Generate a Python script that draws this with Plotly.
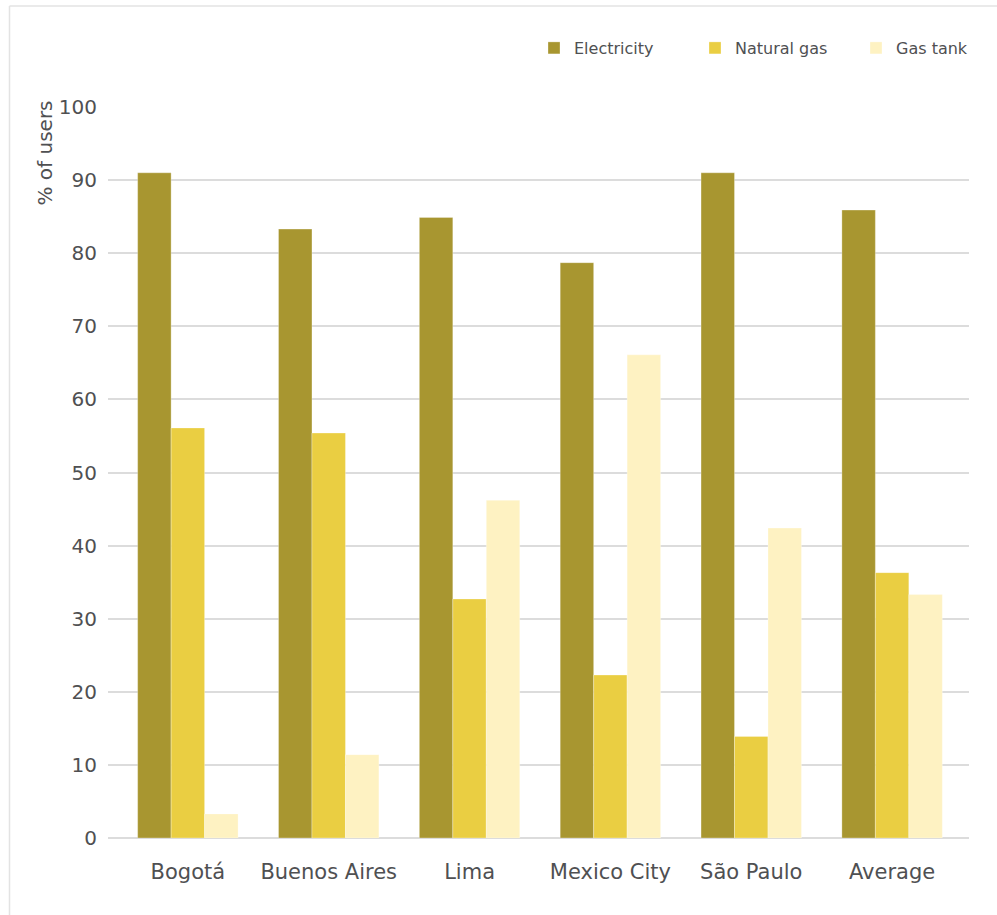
import plotly.graph_objects as go

# Share of users by cooking energy source, per city
cities = ["Bogotá", "Buenos Aires", "Lima", "Mexico City", "São Paulo", "Average"]
electricity = [91.0, 83.3, 84.9, 78.7, 91.0, 85.9]
natural_gas = [56.1, 55.4, 32.7, 22.3, 13.9, 36.3]
gas_tank = [3.3, 11.4, 46.2, 66.1, 42.4, 33.3]
y_ticks = [0, 10, 20, 30, 40, 50, 60, 70, 80, 90, 100]

series = [
    ("Electricity", electricity, "#A89630"),
    ("Natural gas", natural_gas, "#EACE42"),
    ("Gas tank", gas_tank, "#FEF2C2"),
]

FONT = "DejaVu Sans, sans-serif"
TEXT = "#4F5052"

W, H = 997, 915
ML, MR, MT, MB = 108, 28, 107, 77
PW, PH = W - ML - MR, H - MT - MB

fig = go.Figure()
for name, vals, color in series:
    fig.add_trace(go.Bar(
        name=name, x=cities, y=vals,
        marker=dict(color=color, line=dict(width=0.6, color="rgba(255,255,255,0.5)")),
    ))

def px_x(p):
    return (p - ML) / PW

def px_y(p):
    return (H - MB - p) / PH

fig.update_layout(
    width=W, height=H,
    margin=dict(l=ML, r=MR, t=MT, b=MB, autoexpand=False),
    paper_bgcolor="white", plot_bgcolor="white",
    barmode="group", bargap=0.287, bargroupgap=0,
    font=dict(family=FONT, color=TEXT),
    showlegend=True,
    legend=dict(
        orientation="h", x=px_x(534), xanchor="left", y=px_y(48), yanchor="middle",
        font=dict(size=16, color=TEXT), itemwidth=30, traceorder="normal",
        entrywidth=116, entrywidthmode="pixels",
        bgcolor="rgba(0,0,0,0)",
    ),
    xaxis=dict(
        range=[-0.567, 5.546], showgrid=False, zeroline=False, showline=False,
        ticks="", tickfont=dict(size=21, color=TEXT), ticklabelstandoff=19,
        fixedrange=True,
    ),
    yaxis=dict(
        range=[0, 100], tickvals=y_ticks, showgrid=True, gridcolor="#DCDCDC",
        gridwidth=2, zeroline=True, zerolinecolor="#DCDCDC", zerolinewidth=2,
        showline=False, ticks="", tickfont=dict(size=20, color=TEXT),
        ticklabelstandoff=10, fixedrange=True,
    ),
    annotations=[dict(
        text="% of users", textangle=-90, xref="paper", yref="paper",
        x=px_x(45), y=px_y(99), xanchor="center", yanchor="top",
        showarrow=False, font=dict(size=20, color=TEXT),
    )],
    shapes=[
        dict(type="line", xref="paper", yref="paper",
             x0=px_x(9.5), x1=px_x(9.5), y0=px_y(6), y1=px_y(H + 5),
             line=dict(color="#E3E3E3", width=1.5)),
        dict(type="line", xref="paper", yref="paper",
             x0=px_x(9.5), x1=px_x(W + 5), y0=px_y(6), y1=px_y(6),
             line=dict(color="#E3E3E3", width=1.5)),
    ],
)

fig.write_html("out.html")
